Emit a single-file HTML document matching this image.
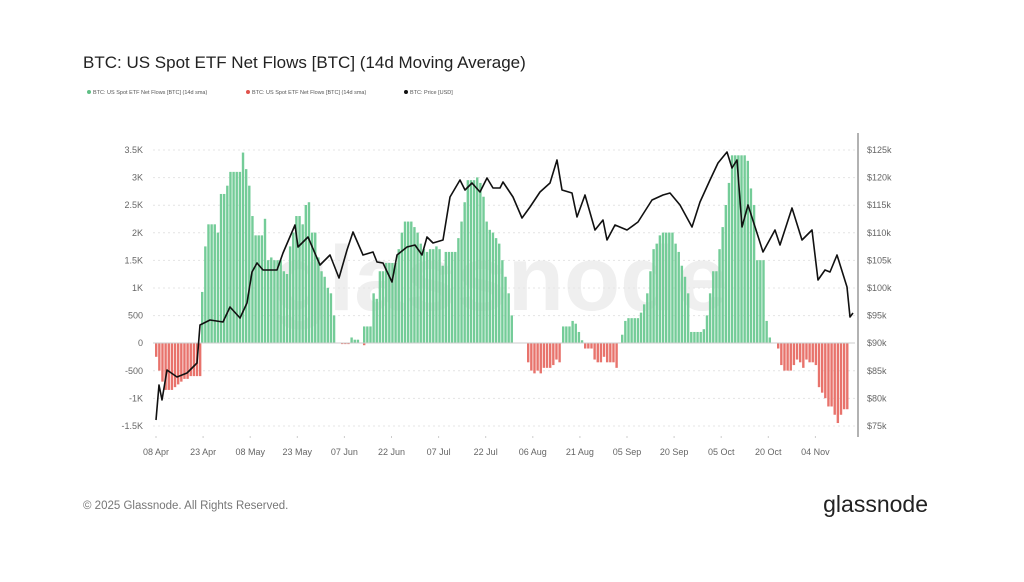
<!DOCTYPE html>
<html><head><meta charset="utf-8"><style>
body{margin:0;background:#fff;width:1024px;height:577px;overflow:hidden;font-family:"Liberation Sans",sans-serif}
</style></head><body>
<svg id="s" width="1024" height="577" xmlns="http://www.w3.org/2000/svg" font-family="Liberation Sans, sans-serif">
<rect width="1024" height="577" fill="#fff"/>
<text x="83" y="68" font-size="17" fill="#222">BTC: US Spot ETF Net Flows [BTC] (14d Moving Average)</text>
<g font-size="5.5" fill="#555">
<circle cx="89" cy="92" r="2" fill="#5fbf85"/><text x="93" y="94">BTC: US Spot ETF Net Flows [BTC] (14d sma)</text>
<circle cx="248" cy="92" r="2" fill="#e0524c"/><text x="252" y="94">BTC: US Spot ETF Net Flows [BTC] (14d sma)</text>
<circle cx="406" cy="92" r="2" fill="#111"/><text x="410" y="94">BTC: Price [USD]</text>
</g>
<text x="500" y="310" font-size="92" fill="#efefef" text-anchor="middle" font-weight="bold">glassnode</text>
<g id="grid" stroke="#e4e4e4" stroke-dasharray="2,3" stroke-width="1"></g>
<g id="bars"></g>
<line x1="153" y1="343" x2="855" y2="343" stroke="#ccc" stroke-width="1"/>
<line x1="858" y1="133" x2="858" y2="437" stroke="#666" stroke-width="1"/>
<g id="lab" font-size="9" fill="#666"></g>
<polyline id="price" fill="none" stroke="#111" stroke-width="1.6" stroke-linejoin="round"/>
<text x="83" y="509" font-size="11.5" fill="#777">© 2025 Glassnode. All Rights Reserved.</text>
<text x="928" y="512" font-size="23" fill="#222" text-anchor="end">glassnode</text>
</svg>
<script>
var NS="http://www.w3.org/2000/svg";
function el(t,a,p){var e=document.createElementNS(NS,t);for(var k in a)e.setAttribute(k,a[k]);document.getElementById(p).appendChild(e);return e;}
var L=["3.5K","3K","2.5K","2K","1.5K","1K","500","0","-500","-1K","-1.5K"];
var R=["$125k","$120k","$115k","$110k","$105k","$100k","$95k","$90k","$85k","$80k","$75k"];
for(var i=0;i<11;i++){var y=150+i*27.6;
 if(i!=7)el("line",{x1:153,y1:y,x2:855,y2:y},"grid");
 var t=el("text",{x:143,y:y+3,"text-anchor":"end"},"lab");t.textContent=L[i];
 t=el("text",{x:867,y:y+3},"lab");t.textContent=R[i];}
var X=["08 Apr","23 Apr","08 May","23 May","07 Jun","22 Jun","07 Jul","22 Jul","06 Aug","21 Aug","05 Sep","20 Sep","05 Oct","20 Oct","04 Nov"];
for(var i=0;i<X.length;i++){var x=156+i*15*3.14;var t=el("text",{x:x,y:455,"text-anchor":"middle"},"lab");t.textContent=X[i];
 el("line",{x1:x,y1:436,x2:x,y2:440,stroke:"#ccc"},"grid");}
var S=[
[155,[-250,-500,-700,-850,-850,-850,-800,-750,-700,-650,-650,-600,-600,-600,-600]],
[201,[925,1750,2150,2150,2150,2000,2700,2700,2850,3100,3100,3100,3100,3450,3150,2850,2300,1950,1950,1950,2250,1500,1550,1500,1500,1500,1300,1250,1750,2000,2300,2300,2150,2500,2550,2000,2000,1550,1300,1200,1000,900,500]],
[341,[-20,-20,-20,100,60,60,0,-40]],
[363,[300,300,300,900,800,1300,1300,1450,1450,1450,1450,1700,2000,2200,2200,2200,2100,2000,1800,1700,1650,1700,1700,1750,1700,1400,1650,1650,1650,1650,1900,2200,2550,2950,2950,2950,3000,2900,2650,2200,2050,2000,1900,1800,1500,1200,900,500]],
[527,[-350,-500,-550,-500,-550,-450,-450,-450,-400,-300,-350]],
[562,[300,300,300,400,350,200,50]],
[584,[-100,-100,-100,-300,-350,-350,-250,-350,-350,-350,-450]],
[621,[150,400,450,450,450,450,550,700,900,1300,1700,1800,1950,2000,2000,2000,2000,1800,1650,1400,1200,900,200,200,200,200,250,500,900,1300,1300,1700,2100,2500,2900,3400,3400,3400,3400,3400,3300,2800,2500,1500,1500,1500,400,100]],
[777,[-100,-400,-500,-500,-500,-400,-300,-350,-450,-300,-350,-350,-400,-800,-900,-1000,-1150,-1150,-1300,-1450,-1300,-1200,-1200]]
];
var sc=27.6/500;
S.forEach(function(s){var x0=s[0],F=s[1];
for(var d=0;d<F.length;d++){var v=F[d];if(v==0)continue;var x=x0+d*3.14;var h=Math.abs(v)*sc;
 el("rect",{x:x,y:v>0?343-h:343,width:2.4,height:Math.max(h,1),fill:v>0?"#74cc98":"#e8736c"},"bars");}});
var P=[[156,420],[159,385],[162,400],[167,370],[177,377],[187,373],[197,363],[200,325],[210,320],[223,322],[230,307],[240,318],[247,303],[252,272],[257,263],[263,270],[277,270],[283,253],[295,225],[298,247],[308,237],[320,265],[330,255],[339,278],[347,250],[353,232],[363,255],[373,252],[377,262],[383,263],[392,282],[397,255],[407,247],[415,245],[422,255],[427,237],[433,243],[443,240],[450,197],[460,180],[465,190],[472,183],[480,192],[487,178],[493,188],[500,188],[503,182],[513,197],[522,218],[530,207],[540,192],[550,183],[557,160],[562,190],[572,193],[577,217],[585,195],[595,230],[603,220],[607,240],[615,225],[627,230],[638,222],[652,200],[663,195],[670,193],[680,205],[692,227],[700,202],[710,180],[718,163],[727,152],[732,168],[737,160],[742,227],[748,205],[757,233],[763,252],[775,230],[780,245],[792,208],[802,240],[812,230],[818,280],[825,270],[830,272],[837,255],[847,287],[850,317],[853,313]];
document.getElementById("price").setAttribute("points",P.map(function(p){return p.join(",")}).join(" "));
</script>
</body></html>
